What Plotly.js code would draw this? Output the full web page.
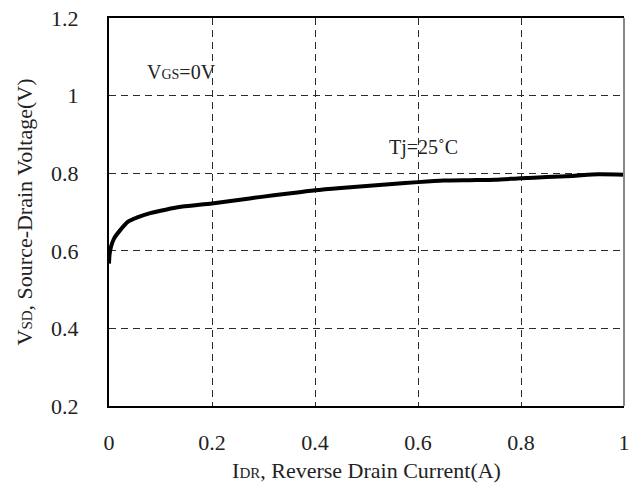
<!DOCTYPE html>
<html>
<head>
<meta charset="utf-8">
<script src="https://cdn.plot.ly/plotly-3.0.1.min.js"></script>
<style>
html,body{margin:0;padding:0;background:#fff;}
#chart{width:637px;height:491px;}
</style>
</head>
<body>
<div id="chart"></div>
<script>
// Reverse drain current (A)
var currentA = [0, 0.001, 0.004, 0.01, 0.021, 0.037, 0.055, 0.08, 0.11, 0.143, 0.2, 0.273, 0.32, 0.37, 0.4, 0.45, 0.5, 0.55, 0.6, 0.65, 0.7, 0.75, 0.8, 0.85, 0.9, 0.95, 1.0];
// Source-drain voltage (V)
var voltageV = [0.567, 0.59, 0.611, 0.632, 0.652, 0.675, 0.686, 0.697, 0.706, 0.714, 0.722, 0.735, 0.743, 0.751, 0.756, 0.762, 0.767, 0.772, 0.777, 0.781, 0.782, 0.783, 0.787, 0.79, 0.793, 0.797, 0.796];

var xTicks = [0, 0.2, 0.4, 0.6, 0.8, 1];
var xTickLabels = ['0', '0.2', '0.4', '0.6', '0.8', '1'];
var yTicks = [0.2, 0.4, 0.6, 0.8, 1, 1.2];
var yTickLabels = ['0.2', '0.4', '0.6', '0.8', '1', '1.2'];

var txtColor = '#222';
var fontFam = 'Liberation Serif, Times New Roman, serif';

var trace = {
  x: currentA,
  y: voltageV,
  type: 'scatter',
  mode: 'lines',
  line: {color: '#000', width: 4, shape: 'spline', smoothing: 0.6},
  hoverinfo: 'skip'
};

var layout = {
  width: 637,
  height: 491,
  margin: {l: 109, r: 13, t: 18, b: 85},
  paper_bgcolor: '#fff',
  plot_bgcolor: '#fff',
  showlegend: false,
  font: {family: fontFam, color: txtColor, size: 22},
  xaxis: {
    range: [0, 1],
    tickvals: xTicks,
    ticktext: xTickLabels,
    ticks: 'outside',
    ticklen: 16,
    tickcolor: 'rgba(0,0,0,0)',
    showgrid: true,
    gridcolor: '#2a2a2a',
    gridwidth: 1,
    griddash: '7px,5px',
    zeroline: false,
    showline: true,
    linecolor: '#000',
    linewidth: 2,
    mirror: true,
    tickfont: {size: 22, color: txtColor, family: fontFam},
    title: {
      text: 'I<span style="font-size:15px">DR</span>, Reverse Drain Current(A)',
      font: {size: 22, color: txtColor, family: fontFam},
      standoff: 8
    }
  },
  yaxis: {
    range: [0.2, 1.2],
    tickvals: yTicks,
    ticktext: yTickLabels,
    ticks: 'outside',
    ticklen: 24,
    tickcolor: 'rgba(0,0,0,0)',
    showgrid: true,
    gridcolor: '#2a2a2a',
    gridwidth: 1,
    griddash: '7px,5px',
    zeroline: false,
    showline: true,
    linecolor: '#000',
    linewidth: 2,
    mirror: false,
    tickfont: {size: 22, color: txtColor, family: fontFam},
    title: {
      text: 'V<span style="font-size:15px">SD</span>, Source-Drain Voltage(V)',
      font: {size: 22, color: txtColor, family: fontFam},
      standoff: 12
    }
  },
  shapes: [
    {type: 'line', xref: 'paper', yref: 'paper', x0: 1, x1: 1, y0: 0, y1: 1,
     line: {color: '#888', width: 2}}
  ],
  annotations: [
    {x: 0.07, y: 1.061, xref: 'x', yref: 'y', xanchor: 'left', yanchor: 'middle',
     text: 'V<span style="font-size:14px">GS</span>=0V', showarrow: false,
     font: {size: 20, color: txtColor, family: fontFam}},
    {x: 0.61, y: 0.867, xref: 'x', yref: 'y', xanchor: 'center', yanchor: 'middle',
     text: 'Tj=25˚C', showarrow: false,
     font: {size: 20, color: txtColor, family: fontFam}}
  ]
};

Plotly.newPlot('chart', [trace], layout, {displayModeBar: false, staticPlot: true});
</script>
</body>
</html>
